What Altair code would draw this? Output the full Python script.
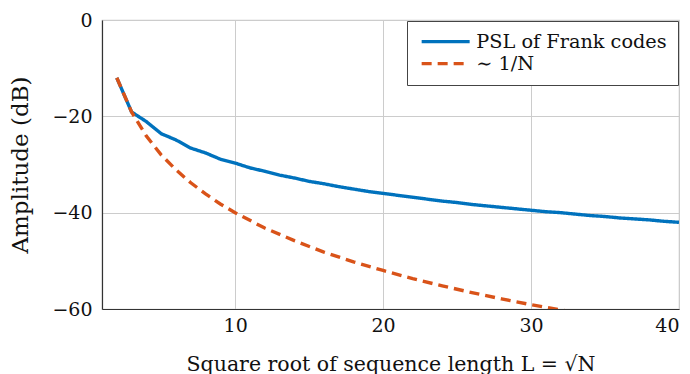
import altair as alt
import pandas as pd

# Square root of sequence length L
L_frank = list(range(2, 41))
psl_frank = [-12.0, -19.1, -21.1, -23.6, -24.9, -26.6, -27.6, -28.9, -29.7,
             -30.7, -31.4, -32.2, -32.8, -33.5, -34.0, -34.6, -35.1, -35.6,
             -36.0, -36.4, -36.8, -37.2, -37.6, -37.9, -38.3, -38.6, -38.9,
             -39.2, -39.5, -39.8, -40.0, -40.3, -40.6, -40.8, -41.1, -41.3,
             -41.5, -41.8, -42.0]

L_ref = [2, 3, 4, 5, 6, 7, 8, 9, 10, 12, 14, 16, 18, 20, 22, 24, 26, 28, 30, 32, 34]
ref_1N = [-12.0, -19.1, -24.1, -28.0, -31.1, -33.8, -36.1, -38.2, -40.0, -43.2,
          -45.8, -48.2, -50.2, -52.0, -53.7, -55.2, -56.6, -57.9, -59.1, -60.2, -61.3]

series_names = ["PSL of Frank codes", "\u223c 1/N"]
x_ticks = [10, 20, 30, 40]
y_ticks = [0, -20, -40, -60]

df = pd.concat([
    pd.DataFrame({"L": L_frank, "A": psl_frank, "s": series_names[0]}),
    pd.DataFrame({"L": L_ref, "A": ref_1N, "s": series_names[1]}),
])

FONT = "DejaVu Serif"

legend_kw = dict(title=None, orient="top-right", offset=1,
                 symbolType="M-1,0H7", symbolSize=144,
                 symbolStrokeWidth=3.4, labelFontSize=19.3,
                 labelFont=FONT, labelColor="#111", labelLimit=0,
                 labelOffset=39, padding=11, rowPadding=2,
                 fillColor="white", strokeColor="#444")

chart = alt.Chart(df).mark_line(clip=True, strokeWidth=3.4).encode(
    x=alt.X("L:Q", scale=alt.Scale(domain=[1, 40], nice=False, zero=False),
            axis=alt.Axis(values=x_ticks, title="Square root of sequence length L = \u221aN",
                          ticks=False, labelPadding=7, titlePadding=19,
                          titleFontSize=20.5,
                          domainColor="#333", domainWidth=1.2)),
    y=alt.Y("A:Q", scale=alt.Scale(domain=[-60, 0], nice=False),
            axis=alt.Axis(values=y_ticks, title="Amplitude (dB)",
                          ticks=False, labelPadding=10, titlePadding=19,
                          titleFontSize=23,
                          domainColor="#333", domainWidth=1.2)),
    color=alt.Color("s:N", scale=alt.Scale(domain=series_names, range=["#0072BD", "#D95319"]),
                    legend=alt.Legend(**legend_kw)),
    strokeDash=alt.StrokeDash("s:N", scale=alt.Scale(domain=series_names, range=[[1, 0], [10, 6]]),
                              legend=alt.Legend(**legend_kw)),
).properties(
    width=577, height=289,
    autosize=alt.AutoSizeParams(type="none"),
    padding={"left": 94, "top": 12, "right": 3, "bottom": 66},
).configure_axis(
    labelFont=FONT, titleFont=FONT, labelFontSize=19,
    labelColor="#111", titleColor="#111", titleFontWeight="normal",
    gridColor="#cccccc", gridWidth=1,
).configure_view(stroke="#cccccc", strokeWidth=1.2)

chart.save("out.html", embed_options={"renderer": "svg", "actions": False})
